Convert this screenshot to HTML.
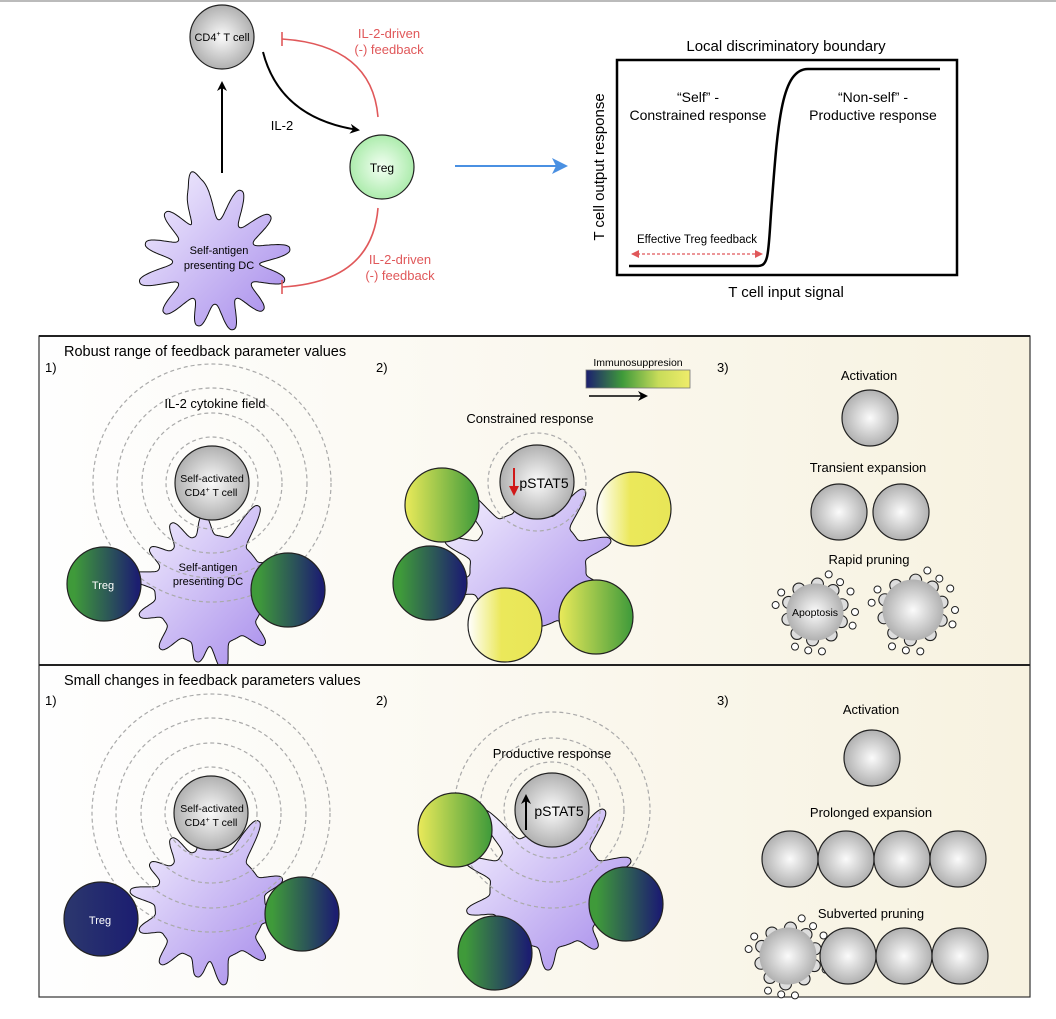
<!DOCTYPE html>
<html><head><meta charset="utf-8"><style>
html,body{margin:0;padding:0;background:#fff;}
svg{display:block;font-family:"Liberation Sans",Arial,sans-serif;}
</style></head><body>
<svg id="s" width="1056" height="1019" viewBox="0 0 1056 1019" xmlns="http://www.w3.org/2000/svg">
<defs>
<radialGradient id="gc" cx="0.5" cy="0.5" r="0.55"><stop offset="0" stop-color="#fbfbfb"/><stop offset="1" stop-color="#a9a9a9"/></radialGradient>
<radialGradient id="gt" cx="0.5" cy="0.5" r="0.55"><stop offset="0" stop-color="#f3fff3"/><stop offset="1" stop-color="#a6eaa6"/></radialGradient>
<linearGradient id="dc" x1="0" y1="0" x2="1" y2="1"><stop offset="0" stop-color="#f6f3ff"/><stop offset="1" stop-color="#a488ea"/></linearGradient>
<linearGradient id="gn" x1="0" x2="1"><stop offset="0.1" stop-color="#3f9a3a"/><stop offset="0.95" stop-color="#1c1e70"/></linearGradient>
<linearGradient id="nn" x1="0" x2="1"><stop offset="0.1" stop-color="#2a356e"/><stop offset="0.95" stop-color="#1c1e70"/></linearGradient>
<linearGradient id="yg" x1="0" x2="1"><stop offset="0" stop-color="#eaea5a"/><stop offset="1" stop-color="#3e9a3a"/></linearGradient>
<linearGradient id="wy" x1="0" x2="1"><stop offset="0" stop-color="#ffffff"/><stop offset="0.45" stop-color="#ebe85a"/><stop offset="1" stop-color="#e8e658"/></linearGradient>
<linearGradient id="cb" x1="0" x2="1"><stop offset="0" stop-color="#1c1e70"/><stop offset="0.35" stop-color="#3f9a3a"/><stop offset="0.7" stop-color="#c8dc5a"/><stop offset="1" stop-color="#efec6a"/></linearGradient>
<linearGradient id="bg" x1="0" x2="1"><stop offset="0" stop-color="#fefefe"/><stop offset="1" stop-color="#f7f2e0"/></linearGradient>
<clipPath id="c1"><rect x="39" y="337" width="991" height="327"/></clipPath>
<clipPath id="c2"><rect x="39" y="666" width="991" height="330"/></clipPath>
<marker id="ab" markerWidth="10" markerHeight="10" refX="8" refY="5" orient="auto" markerUnits="userSpaceOnUse"><path d="M0,0 L10,5 L0,10 L3,5 Z" fill="#000"/></marker>
<marker id="ar" markerWidth="8" markerHeight="8" refX="7" refY="4" orient="auto" markerUnits="userSpaceOnUse"><path d="M0,0 L8,4 L0,8 Z" fill="#e0585a"/></marker>
<marker id="arr" markerWidth="8" markerHeight="8" refX="7" refY="4" orient="auto-start-reverse" markerUnits="userSpaceOnUse"><path d="M0,0 L8,4 L0,8 Z" fill="#e0585a"/></marker>
<marker id="abl" markerWidth="16" markerHeight="16" refX="14" refY="8" orient="auto" markerUnits="userSpaceOnUse"><path d="M0,0 L16,8 L0,16 L4,8 Z" fill="#4a90e2"/></marker>
<marker id="ard" markerWidth="10" markerHeight="10" refX="8" refY="5" orient="auto" markerUnits="userSpaceOnUse"><path d="M0,0 L10,5 L0,10 Z" fill="#d01818"/></marker>
</defs>
<line x1="0" y1="1" x2="1056" y2="1" stroke="#bbb" stroke-width="2"/>

<!-- TOP LEFT -->
<path id="b0" fill="url(#dc)" stroke="#111" stroke-width="1"/>
<text x="219" y="254" font-size="11" text-anchor="middle">Self-antigen</text>
<text x="219" y="269" font-size="11" text-anchor="middle">presenting DC</text>
<line x1="222" y1="173" x2="222" y2="83" stroke="#000" stroke-width="2" marker-end="url(#ab)"/>
<circle cx="222" cy="37" r="32" fill="url(#gc)" stroke="#222" stroke-width="1.2"/>
<text x="222" y="41" font-size="11" text-anchor="middle">CD4<tspan font-size="7" dy="-5">+</tspan><tspan dy="5"> T cell</tspan></text>
<path d="M263,52 Q280,118 358,130" fill="none" stroke="#000" stroke-width="2" marker-end="url(#ab)"/>
<text x="282" y="130" font-size="13" text-anchor="middle">IL-2</text>
<circle cx="382" cy="167" r="32" fill="url(#gt)" stroke="#222" stroke-width="1.2"/>
<text x="382" y="172" font-size="12" text-anchor="middle">Treg</text>
<path d="M378,117 Q372,45 282,39" fill="none" stroke="#e0585a" stroke-width="1.6"/>
<line x1="282" y1="32" x2="282" y2="46" stroke="#e0585a" stroke-width="1.6"/>
<path d="M378,208 Q372,282 282,287" fill="none" stroke="#e0585a" stroke-width="1.6"/>
<line x1="282" y1="280" x2="282" y2="294" stroke="#e0585a" stroke-width="1.6"/>
<g fill="#e0585a" font-size="13" text-anchor="middle">
<text x="389" y="38">IL-2-driven</text><text x="389" y="54">(-) feedback</text>
<text x="400" y="264">IL-2-driven</text><text x="400" y="280">(-) feedback</text>
</g>
<line x1="455" y1="166" x2="566" y2="166" stroke="#4a90e2" stroke-width="2" marker-end="url(#abl)"/>

<!-- GRAPH -->
<text x="786" y="51" font-size="15" text-anchor="middle">Local discriminatory boundary</text>
<rect x="617" y="60" width="340" height="215" fill="#fff" stroke="#000" stroke-width="2.5"/>
<path d="M629,266 L758,266 C770,266 768,250 772,200 C778,120 782,69 808,69 L940,69" fill="none" stroke="#000" stroke-width="2.5"/>
<text x="698" y="102" font-size="14" text-anchor="middle">“Self” -</text>
<text x="698" y="120" font-size="14" text-anchor="middle">Constrained response</text>
<text x="873" y="102" font-size="14" text-anchor="middle">“Non-self” -</text>
<text x="873" y="120" font-size="14" text-anchor="middle">Productive response</text>
<text x="697" y="243" font-size="11.5" text-anchor="middle">Effective Treg feedback</text>
<line x1="632" y1="254" x2="762" y2="254" stroke="#e0585a" stroke-width="1.3" stroke-dasharray="3,2" marker-end="url(#ar)" marker-start="url(#arr)"/>
<text x="786" y="297" font-size="15" text-anchor="middle">T cell input signal</text>
<text transform="translate(604,167) rotate(-90)" font-size="15" text-anchor="middle">T cell output response</text>

<!-- PANELS -->
<rect x="39" y="336" width="991" height="661" fill="url(#bg)" stroke="#333" stroke-width="1.2"/>
<text x="64" y="356" font-size="14.5">Robust range of feedback parameter values</text>
<text x="45" y="372" font-size="13">1)</text><text x="376" y="372" font-size="13">2)</text><text x="717" y="372" font-size="13">3)</text>
<text x="64" y="685" font-size="14.5">Small changes in feedback parameters values</text>
<text x="45" y="705" font-size="13">1)</text><text x="376" y="705" font-size="13">2)</text><text x="717" y="705" font-size="13">3)</text>

<g clip-path="url(#c1)">
<!-- P1 S1 -->
<path id="b1" fill="url(#dc)" stroke="#111" stroke-width="1"/>
<g fill="none" stroke="#aaa" stroke-width="1.2" stroke-dasharray="4,3">
<circle cx="212" cy="483" r="46"/><circle cx="212" cy="483" r="70"/><circle cx="212" cy="483" r="95"/><circle cx="212" cy="483" r="119"/>
</g>
<text x="215" y="408" font-size="13" text-anchor="middle">IL-2 cytokine field</text>
<circle cx="212" cy="483" r="37" fill="url(#gc)" stroke="#222" stroke-width="1.2"/>
<text x="212" y="482" font-size="10.5" text-anchor="middle">Self-activated</text>
<text x="211" y="496" font-size="10.5" text-anchor="middle">CD4<tspan font-size="7" dy="-4">+</tspan><tspan dy="4"> T cell</tspan></text>
<text x="208" y="571" font-size="11" text-anchor="middle">Self-antigen</text>
<text x="208" y="585" font-size="11" text-anchor="middle">presenting DC</text>
<circle cx="104" cy="584" r="37" fill="url(#gn)" stroke="#222" stroke-width="1.2"/>
<text x="103" y="589" font-size="11" fill="#fff" text-anchor="middle">Treg</text>
<circle cx="288" cy="590" r="37" fill="url(#gn)" stroke="#222" stroke-width="1.2"/>

<!-- P1 S2 -->
<path id="b2" fill="url(#dc)" stroke="#111" stroke-width="1"/>
<circle cx="537" cy="482" r="49" fill="none" stroke="#aaa" stroke-width="1.2" stroke-dasharray="4,3"/>
<text x="530" y="423" font-size="13" text-anchor="middle">Constrained response</text>
<circle cx="537" cy="482" r="37" fill="url(#gc)" stroke="#222" stroke-width="1.2"/>
<line x1="514" y1="468" x2="514" y2="494" stroke="#d01818" stroke-width="2" marker-end="url(#ard)"/>
<text x="544" y="488" font-size="14" text-anchor="middle">pSTAT5</text>
<circle cx="442" cy="505" r="37" fill="url(#yg)" stroke="#222" stroke-width="1.2"/>
<circle cx="430" cy="583" r="37" fill="url(#yg)" stroke="#222" stroke-width="1.2" style="fill:url(#gn)"/>
<circle cx="634" cy="509" r="37" fill="url(#wy)" stroke="#222" stroke-width="1.2"/>
<circle cx="505" cy="625" r="37" fill="url(#wy)" stroke="#222" stroke-width="1.2"/>
<circle cx="596" cy="617" r="37" fill="url(#yg)" stroke="#222" stroke-width="1.2"/>
</g>
<text x="638" y="366" font-size="10.5" text-anchor="middle">Immunosuppresion</text>
<rect x="586" y="370" width="104" height="18" fill="url(#cb)" stroke="#777" stroke-width="0.8"/>
<line x1="589" y1="396" x2="646" y2="396" stroke="#000" stroke-width="1.5" marker-end="url(#ab)"/>

<!-- P1 S3 -->
<g font-size="13" text-anchor="middle">
<text x="869" y="380">Activation</text>
<text x="868" y="472">Transient expansion</text>
<text x="869" y="564">Rapid pruning</text>
</g>
<g fill="url(#gc)" stroke="#222" stroke-width="1.2">
<circle cx="870" cy="418" r="28"/><circle cx="839" cy="512" r="28"/><circle cx="901" cy="512" r="28"/>
</g>
<g id="apo"></g>
<text x="815" y="616" font-size="10.5" text-anchor="middle">Apoptosis</text>

<g clip-path="url(#c2)">
<!-- P2 S1 -->
<path id="b3" fill="url(#dc)" stroke="#111" stroke-width="1"/>
<g fill="none" stroke="#aaa" stroke-width="1.2" stroke-dasharray="4,3">
<circle cx="211" cy="813" r="46"/><circle cx="211" cy="813" r="70"/><circle cx="211" cy="813" r="95"/><circle cx="211" cy="813" r="119"/>
</g>
<circle cx="211" cy="813" r="37" fill="url(#gc)" stroke="#222" stroke-width="1.2"/>
<text x="212" y="812" font-size="10.5" text-anchor="middle">Self-activated</text>
<text x="211" y="826" font-size="10.5" text-anchor="middle">CD4<tspan font-size="7" dy="-4">+</tspan><tspan dy="4"> T cell</tspan></text>
<circle cx="101" cy="919" r="37" fill="url(#nn)" stroke="#222" stroke-width="1.2"/>
<text x="100" y="924" font-size="11" fill="#fff" text-anchor="middle">Treg</text>
<circle cx="302" cy="914" r="37" fill="url(#gn)" stroke="#222" stroke-width="1.2"/>

<!-- P2 S2 -->
<path id="b4" fill="url(#dc)" stroke="#111" stroke-width="1"/>
<g fill="none" stroke="#aaa" stroke-width="1.2" stroke-dasharray="4,3">
<circle cx="552" cy="810" r="48"/><circle cx="552" cy="810" r="72"/><circle cx="552" cy="810" r="98"/>
</g>
<text x="552" y="758" font-size="13" text-anchor="middle">Productive response</text>
<circle cx="552" cy="810" r="37" fill="url(#gc)" stroke="#222" stroke-width="1.2"/>
<line x1="526" y1="830" x2="526" y2="796" stroke="#000" stroke-width="2" marker-end="url(#ab)"/>
<text x="559" y="816" font-size="14" text-anchor="middle">pSTAT5</text>
<circle cx="455" cy="830" r="37" fill="url(#yg)" stroke="#222" stroke-width="1.2"/>
<circle cx="626" cy="904" r="37" fill="url(#gn)" stroke="#222" stroke-width="1.2"/>
<circle cx="495" cy="953" r="37" fill="url(#gn)" stroke="#222" stroke-width="1.2"/>
</g>
<line x1="39" y1="336" x2="1030" y2="336" stroke="#222" stroke-width="2"/>
<line x1="39" y1="665" x2="1030" y2="665" stroke="#222" stroke-width="2"/>

<!-- P2 S3 -->
<g font-size="13" text-anchor="middle">
<text x="871" y="714">Activation</text>
<text x="871" y="817">Prolonged expansion</text>
<text x="871" y="918">Subverted pruning</text>
</g>
<g fill="url(#gc)" stroke="#222" stroke-width="1.2">
<circle cx="872" cy="758" r="28"/>
<circle cx="790" cy="859" r="28"/><circle cx="846" cy="859" r="28"/><circle cx="902" cy="859" r="28"/><circle cx="958" cy="859" r="28"/>
<circle cx="848" cy="956" r="28"/><circle cx="904" cy="956" r="28"/><circle cx="960" cy="956" r="28"/>
</g>
</svg>
<script>
function blob(id,cx,cy,R,t,w){
  var pts=[];
  for(var k=0;k<720;k++){
    var th=k*Math.PI/360, r=R;
    for(var i=0;i<t.length;i++){
      var a=t[i][0]*Math.PI/180, d=Math.atan2(Math.sin(th-a),Math.cos(th-a));
      var ww=(w||0.16)*(t[i][2]||1);
      r+=t[i][1]*Math.exp(-Math.pow(Math.abs(d)/ww,2.6));
    }
    pts.push((cx+r*Math.cos(th)).toFixed(1)+','+(cy+r*Math.sin(th)).toFixed(1));
  }
  document.getElementById(id).setAttribute('d','M'+pts.join('L')+'Z');
}
var T=[[-100,38],[-70,34],[-40,30],[-10,34],[15,30],[45,26],[75,28],[105,24],[135,30],[165,36],[195,30],[225,28],[250,30]];
blob('b0',215,262,42,T,0.14);
var T2=[[-120,22],[-95,20],[-60,42],[-20,22],[10,18],[45,22],[80,26],[100,18],[130,22],[160,20],[190,26],[215,18]];
blob('b1',210,590,55,T2,0.11);
blob('b3',210,905,55,T2,0.11);
var T3=[[-130,24],[-95,18],[-55,40],[-20,30],[15,24],[50,18],[90,22],[130,18],[165,26],[200,30],[230,22]];
blob('b2',528,570,58,T3,0.11);
blob('b4',548,890,58,T3,0.11);
function apo(cx,cy,r,g){
  var s='';
  var bumps=[20,55,95,130,165,200,235,275,310,345];
  bumps.forEach(function(a){var t=a*Math.PI/180;s+='<circle cx="'+(cx+r*Math.cos(t))+'" cy="'+(cy+r*Math.sin(t))+'" r="6" fill="#ddd" stroke="#222" stroke-width="1.1"/>';});
  s+='<circle cx="'+cx+'" cy="'+cy+'" r="'+(r+0.5)+'" fill="url(#gc)" stroke="none"/>';
  var sm=[[-70,12],[-50,11],[-30,13],[0,12],[20,12],[100,11],[120,12],[80,12],[190,12],[210,11]];
  sm.forEach(function(p){var t=p[0]*Math.PI/180;s+='<circle cx="'+(cx+(r+p[1])*Math.cos(t))+'" cy="'+(cy+(r+p[1])*Math.sin(t))+'" r="3.5" fill="#fff" stroke="#222" stroke-width="1"/>';});
  return s;
}
document.getElementById('apo').innerHTML=apo(815,612,28)+apo(913,610,30)+apo(788,956,28);
</script>
</body></html>
